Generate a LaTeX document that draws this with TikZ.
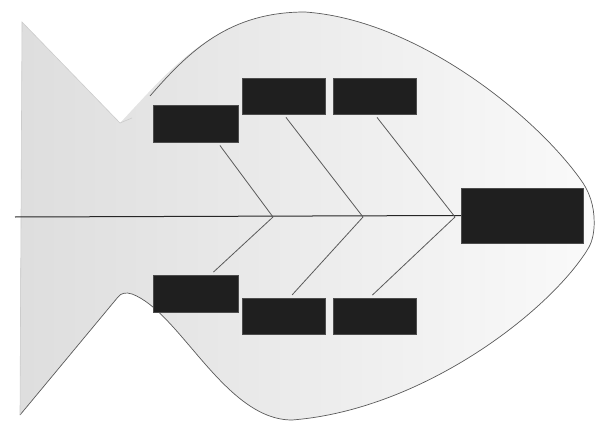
\documentclass[tikz,border=0pt]{standalone}
\usepackage{tikz}
\usepackage{xcolor}
\usetikzlibrary{positioning, calc}
\definecolor{finegray}{RGB}{90,90,90}
\tikzset{
  bonebox/.style={rectangle, fill=black!88, draw=black!70, inner sep=0pt},
  bone/.style={finegray, line width=0.8pt, shorten <=4pt},
}

\begin{document}
\begin{tikzpicture}[x=1pt, y=-1pt]
  \useasboundingbox (0,0) rectangle (596,422);
  \shade[left color=gray!26, middle color=white, right color=gray!4]
    (22,22) -- (120,123) .. controls (170,70) and (215,12) .. (305,12)
    .. controls (420,20) and (540,120) .. (583,183)
    .. controls (592,197) and (595,212) .. (594,228)
    .. controls (593,240) and (590,246) .. (586,252)
    .. controls (545,315) and (420,410) .. (292,420)
    .. controls (225,420) and (180,312) .. (132,294)
    .. controls (126,292) and (121,293) .. (118,297)
    -- (20,415) -- cycle;
  \draw[finegray, line width=0.7pt]
    (150,96) .. controls (190,50) and (230,12) .. (305,12)
    .. controls (420,20) and (540,120) .. (583,183)
    .. controls (592,197) and (595,212) .. (594,228)
    .. controls (593,240) and (590,246) .. (586,252)
    .. controls (545,315) and (420,410) .. (292,420)
    .. controls (225,420) and (180,312) .. (132,294)
    .. controls (126,292) and (121,293) .. (118,297)
    -- (20,415);
  \draw[gray!40, line width=0.6pt] (20,415) -- (22,22) -- (120,123) -- (132,118);

  \node[bonebox, minimum width=85pt, minimum height=37pt] (ul) at (195.5,123.5) {};
  \node[bonebox, minimum width=83pt, minimum height=36pt] (um) at (283.5,96) {};
  \node[bonebox, minimum width=83pt, minimum height=36pt] (ur) at (374.5,96) {};
  \node[bonebox, minimum width=85pt, minimum height=37pt] (ll) at (195.5,293.5) {};
  \node[bonebox, minimum width=83pt, minimum height=36pt] (lm) at (283.5,316) {};
  \node[bonebox, minimum width=83pt, minimum height=36pt] (lr) at (374.5,316) {};
  \node[bonebox, minimum width=122pt, minimum height=55pt] (head) at (522,215.5) {};

  \coordinate (tail) at (15,217);
  \coordinate (tip1) at (273,217);
  \coordinate (tip2) at (363,217);
  \coordinate (tip3) at (455,217);

  \draw[black!85, line width=1pt] (tail) -- (head.west);
  \draw[bone] ([xshift=22pt]ul.south) -- (tip1);
  \draw[bone] (um.south) -- (tip2);
  \draw[bone] (ur.south) -- (tip3);
  \draw[bone] ([xshift=15pt]ll.north) -- (tip1);
  \draw[bone] ([xshift=6pt]lm.north) -- (tip2);
  \draw[bone] ([xshift=-5pt]lr.north) -- (tip3);
\end{tikzpicture}
\end{document}
